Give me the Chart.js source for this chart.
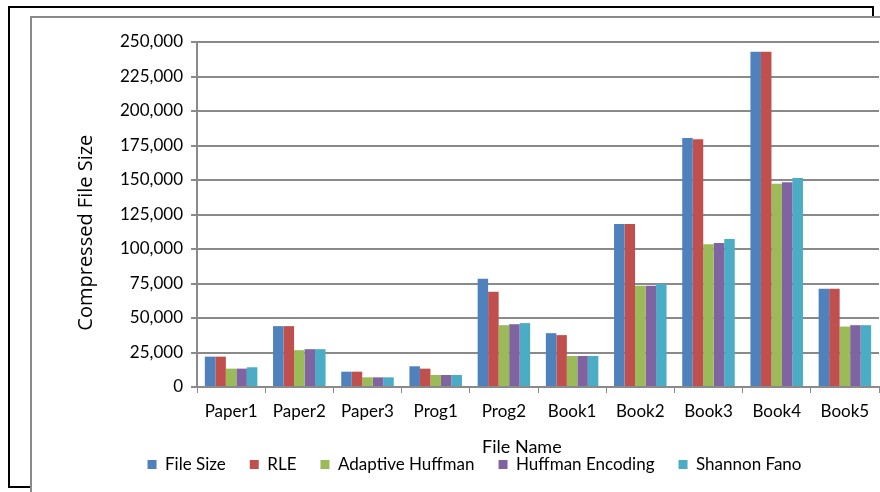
<!DOCTYPE html>
<html lang="en">
<head>
    <meta charset="UTF-8">
    <title>Compressed File Size</title>
    <script src="https://cdn.jsdelivr.net/npm/chart.js"></script>
    <style>
        html, body { margin: 0; padding: 0; background: #fff; }
        #wrap { width: 880px; height: 492px; }
    </style>
</head>
<body>
    <div id="wrap"><canvas id="sizeChart" width="880" height="492"></canvas></div>

    <script>
        // Dateien aus dem Testkorpus
        const files = ['Paper1', 'Paper2', 'Paper3', 'Prog1', 'Prog2', 'Book1', 'Book2', 'Book3', 'Book4', 'Book5'];

        // Dateigroessen (Bytes) je Verfahren
        const fileSize       = [22000, 44100, 11100, 15000, 78500, 39000, 118200, 180500, 243000, 71200];
        const rle            = [22000, 44100, 11100, 13300, 69000, 37600, 118200, 179500, 243000, 71200];
        const adaptiveHuff   = [13300, 26700,  7000,  8700, 44800, 22500,  73400, 103400, 147300, 43800];
        const huffmanEnc     = [13300, 27400,  7000,  8700, 45500, 22500,  73400, 104400, 148300, 44800];
        const shannonFano    = [14300, 27400,  7000,  8700, 46300, 22500,  74900, 107300, 151400, 44800];

        const yTicks = [0, 25000, 50000, 75000, 100000, 125000, 150000, 175000, 200000, 225000, 250000];

        const font = "Lato, 'Open Sans', sans-serif";
        const gridGray = '#8a8a8a';

        // Rahmen um das Diagramm (schwarzer Aussenrahmen, grauer Innenrahmen)
        const framePlugin = {
            id: 'frame',
            beforeDraw(chart) {
                const c = chart.ctx;
                c.save();
                c.fillStyle = '#fff';
                c.fillRect(0, 0, chart.width, chart.height);
                c.strokeStyle = '#000';
                c.lineWidth = 2;
                c.strokeRect(9, 7, 864, 480);
                c.fillStyle = '#fff';
                c.fillRect(31, 17, chart.width - 31, chart.height - 17);
                c.strokeStyle = '#8a8a8a';
                c.beginPath();
                c.moveTo(31, chart.height);
                c.lineTo(31, 17);
                c.lineTo(chart.width, 17);
                c.stroke();
                c.restore();
            }
        };

        const ctx = document.getElementById('sizeChart').getContext('2d');
        const sizeChart = new Chart(ctx, {
            type: 'bar',
            data: {
                labels: files,
                datasets: [
                    { label: 'File Size', data: fileSize, backgroundColor: '#4f81bd' },
                    { label: 'RLE', data: rle, backgroundColor: '#c0504d' },
                    { label: 'Adaptive Huffman', data: adaptiveHuff, backgroundColor: '#9bbb59' },
                    { label: 'Huffman Encoding', data: huffmanEnc, backgroundColor: '#8064a2' },
                    { label: 'Shannon Fano', data: shannonFano, backgroundColor: '#4bacc6' }
                ]
            },
            options: {
                responsive: false,
                animation: false,
                layout: { padding: { left: 70, right: 1, top: 42, bottom: 9 } },
                datasets: {
                    bar: { barPercentage: 1.0, categoryPercentage: 0.77 }
                },
                plugins: {
                    legend: {
                        position: 'bottom',
                        labels: {
                            boxWidth: 9,
                            boxHeight: 9,
                            padding: 24,
                            color: '#000',
                            font: { family: font, size: 17 }
                        }
                    },
                    tooltip: { enabled: false }
                },
                scales: {
                    x: {
                        // Achsentitel ragt in die Legende hinein
                        afterFit(scale) { scale.height = 45; },
                        grid: {
                            offset: true,
                            drawOnChartArea: false,
                            tickLength: 6,
                            color: gridGray
                        },
                        border: { color: gridGray, width: 2 },
                        ticks: {
                            color: '#000',
                            padding: 8,
                            maxRotation: 0,
                            font: { family: font, size: 17 }
                        },
                        title: {
                            display: true,
                            text: 'File Name       ',
                            color: '#000',
                            padding: { top: 0, bottom: -26 },
                            font: { family: font, size: 18 }
                        }
                    },
                    y: {
                        min: 0,
                        max: 250000,
                        afterFit(scale) { scale.width = 127; },
                        afterBuildTicks(scale) {
                            scale.ticks = yTicks.map(v => ({ value: v }));
                        },
                        grid: {
                            color: gridGray,
                            lineWidth: 2,
                            tickLength: 6
                        },
                        border: { color: gridGray, width: 2 },
                        ticks: {
                            color: '#000',
                            padding: 8,
                            font: { family: font, size: 17 },
                            callback: v => v.toLocaleString('en-US')
                        },
                        title: {
                            display: true,
                            text: 'Compressed File Size       ',
                            color: '#000',
                            padding: { top: 4, bottom: 4 },
                            font: { family: "'Open Sans', sans-serif", size: 20 }
                        }
                    }
                }
            },
            plugins: [framePlugin]
        });
    </script>
</body>
</html>
